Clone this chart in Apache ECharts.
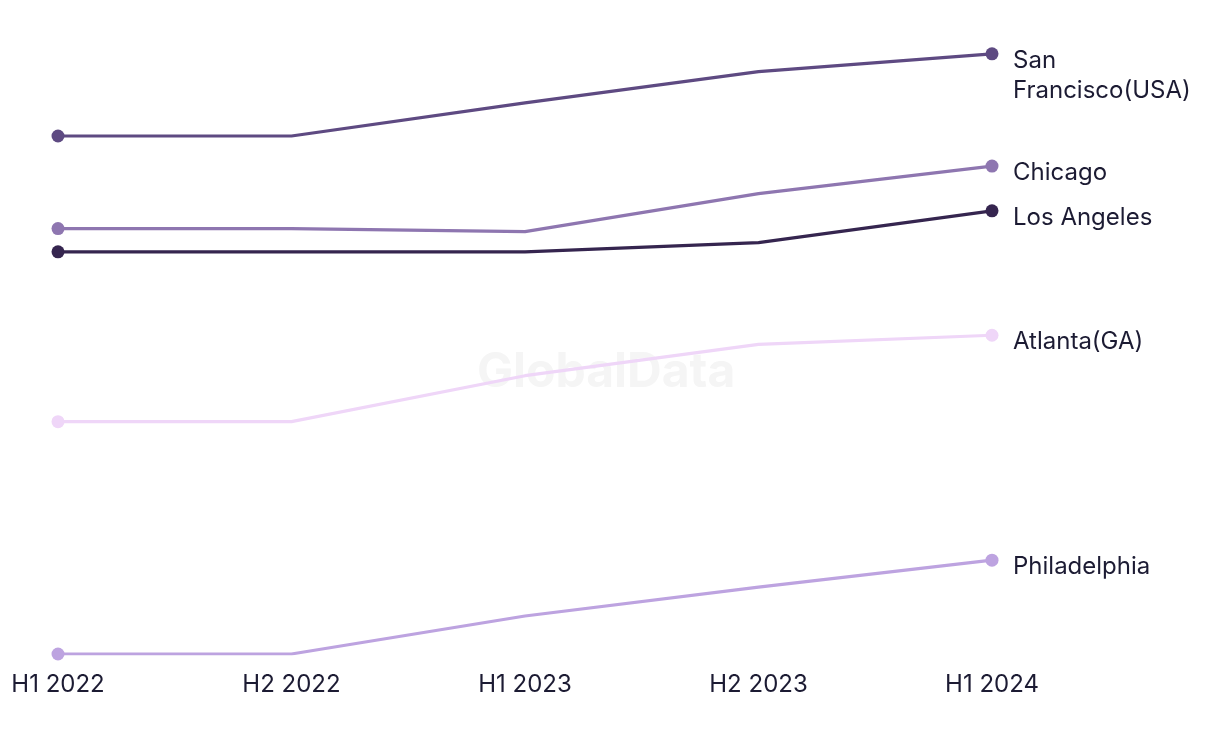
<!DOCTYPE html>
<html>
<head>
<meta charset="utf-8">
<script src="https://cdn.jsdelivr.net/npm/echarts@6/dist/echarts.min.js"></script>
<style>html,body{margin:0;padding:0;background:#fff;}#c{width:1220px;height:744px;}</style>
</head>
<body>
<div id="c"></div>
<script>
var categories = ['H1 2022', 'H2 2022', 'H1 2023', 'H2 2023', 'H1 2024'];
var sanFrancisco = [84.5, 84.5, 89.9, 95.0, 97.9];
var chicago = [69.4, 69.4, 68.9, 75.1, 79.6];
var losAngeles = [65.6, 65.6, 65.6, 67.1, 72.3];
var atlanta = [37.9, 37.9, 45.4, 50.5, 52.0];
var philadelphia = [0, 0, 6.2, 10.9, 15.3];
var seriesNames = ['San\nFrancisco(USA)', 'Chicago', 'Los Angeles', 'Atlanta(GA)', 'Philadelphia'];
var seriesData = [sanFrancisco, chicago, losAngeles, atlanta, philadelphia];
var colors = ['#5e4a82', '#8e76b0', '#35254f', '#efd6f8', '#bda3e0'];

var FONT = 'Inter, "Noto Sans", sans-serif';
var chart = echarts.init(document.getElementById('c'));
var series = seriesData.map(function (d, i) {
  var isSF = i === 0;
  return {
    name: seriesNames[i],
    type: 'line',
    data: d,
    color: colors[i],
    lineStyle: { width: 3.2, color: colors[i] },
    itemStyle: { color: colors[i] },
    symbolSize: 13,
    showAllSymbol: true,
    symbol: function (v, p) { return (p.dataIndex === 0 || p.dataIndex === categories.length - 1) ? 'circle' : 'none'; },
    emphasis: { disabled: true },
    endLabel: {
      show: true,
      formatter: '{a}',
      color: '#1c1b33',
      fontFamily: FONT,
      fontSize: 24,
      lineHeight: 30,
      distance: 21,
      verticalAlign: isSF ? 'top' : 'middle',
      offset: isSF ? [0, -8] : [0, 7]
    },
    z: 10 - i
  };
});

chart.setOption({
  animation: false,
  backgroundColor: '#ffffff',
  graphic: [{
    type: 'text',
    left: 477,
    top: 349,
    silent: true,
    z: 0,
    style: { text: 'GlobalData', fontFamily: FONT, fontWeight: 'bold', fontSize: 48, fill: '#f5f5f5' }
  }],
  grid: { left: 58, right: 228, top: 41, bottom: 90, containLabel: false },
  xAxis: {
    type: 'category',
    data: categories,
    boundaryGap: false,
    axisLine: { show: false },
    axisTick: { show: false },
    splitLine: { show: false },
    axisLabel: { color: '#1c1b33', fontFamily: FONT, fontSize: 24, margin: 19 }
  },
  yAxis: {
    type: 'value',
    min: 0,
    max: 100,
    show: false,
    splitLine: { show: false }
  },
  series: series
});
</script>
</body>
</html>
